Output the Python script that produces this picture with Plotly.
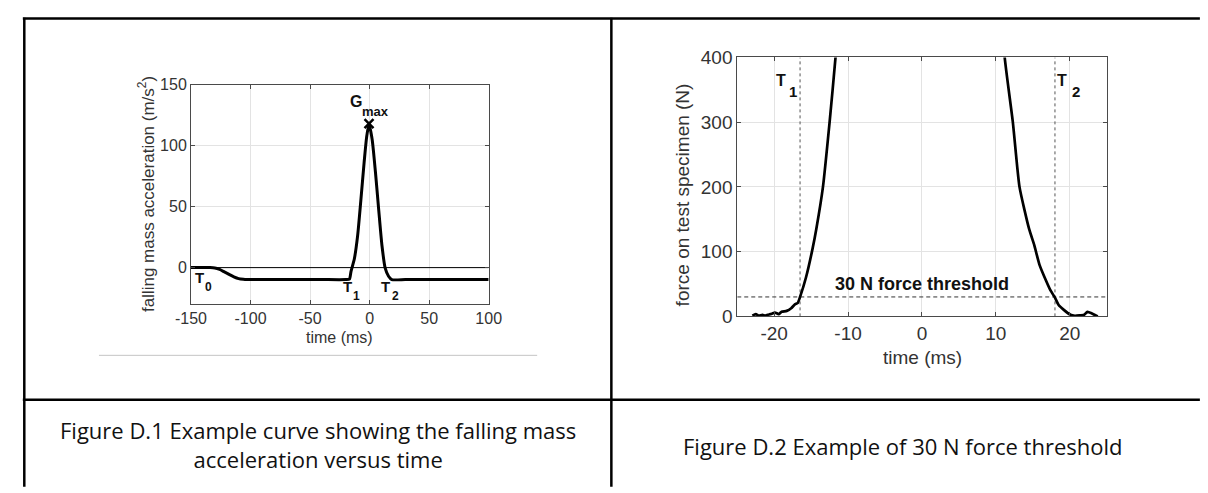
import plotly.graph_objects as go

W, H = 1208, 493

# ---------------- data: Figure D.1 ----------------
acc_time = [-150, -140, -134, -130, -126, -122, -118, -114, -110, -106, -103, -100, -80, -60, -40,
            -20, -17, -15.6, -12.8, -10.1, -7.4, -4.6, -2.5, -0.5, 2.2, 4.9, 7.7, 10.4, 13.1,
            15.9, 18.6, 30, 50, 70, 100]
acc_vals = [0, 0, 0, -0.3, -1.5, -3.5, -5.5, -7.5, -9, -9.6, -9.8, -9.8, -9.8, -9.8, -9.8,
            -9.8, -9.5, -3, 7.3, 25.8, 54.7, 86.3, 107, 118, 104.7, 78.4, 46.8, 17.9, -0.5,
            -7.1, -9.8, -9.8, -9.8, -9.8, -9.8]
gmax_time = [-0.5]
gmax_val = [118]
acc_xticks = [-150, -100, -50, 0, 50, 100]
acc_xlabels = ["-150", "-100", "-50", "0", "50", "100"]
acc_yticks = [0, 50, 100, 150]
acc_ylabels = ["0", "50", "100", "150"]

# ---------------- data: Figure D.2 ----------------
force_time = [-22.95, -22.5, -22.1, -21.6, -21.2, -20.7, -20.3, -19.9, -19.4, -19.0, -18.3,
              -17.7, -17.2, -16.8, -16.5, -15.7, -14.8, -14.3, -13.4, -12.5, -11.7, -11.3,
              None,
              11.0, 11.2, 12.3, 13.2, 14.5, 15.2, 15.9, 16.8, 17.4, 18.0, 18.5, 19.2, 20.1,
              20.7, 21.4, 21.9, 22.4, 23.0, 23.6, 23.8]
force_vals = [1, 3.5, 1, 2.5, 1, 3, 4, 6, 3.5, 7, 8.5,
              12.5, 18.5, 21, 30, 60, 105, 135, 200, 300, 400, 460,
              None,
              460, 400, 300, 200, 135, 110, 80, 55, 40, 29, 17.5, 10, 2.5,
              1, 1.5, 2, 7, 4.5, 1, 0]
threshold = 30
t1_time, t2_time = -16.5, 18.0
force_xticks = [-20, -10, 0, 10, 20]
force_xlabels = ["-20", "-10", "0", "10", "20"]
force_yticks = [0, 100, 200, 300, 400]
force_ylabels = ["0", "100", "200", "300", "400"]

captions = ["Figure D.1 Example curve showing the falling mass<br>acceleration versus time",
            "Figure D.2 Example of 30 N force threshold"]


def px(x):
    return x / W


def py(y):
    return 1 - y / H


AX = "#4a4a4a"
GRID = "#e3e3e3"
TXT = "#333333"
CF = "Liberation Sans"
CAPF = "Open Sans"

fig = go.Figure()

# Figure D.1
fig.add_trace(go.Scatter(x=[acc_xticks[0], acc_xticks[-1]], y=[0, 0], mode="lines",
                         line=dict(color="black", width=1), xaxis="x", yaxis="y",
                         hoverinfo="skip"))
fig.add_trace(go.Scatter(x=acc_time, y=acc_vals, mode="lines",
                         line=dict(color="black", width=3, shape="spline", smoothing=0.6),
                         xaxis="x", yaxis="y"))
fig.add_trace(go.Scatter(x=gmax_time, y=gmax_val, mode="markers",
                         marker=dict(symbol="x-thin", size=9, line=dict(color="black", width=2.5)),
                         xaxis="x", yaxis="y"))

# Figure D.2
fig.add_trace(go.Scatter(x=[force_xticks[0] - 5, force_xticks[-1] + 5], y=[threshold, threshold],
                         mode="lines", line=dict(color="#333333", width=1, dash="4px,3px"),
                         xaxis="x2", yaxis="y2"))
for t in (t1_time, t2_time):
    fig.add_trace(go.Scatter(x=[t, t], y=[0, 400], mode="lines",
                             line=dict(color="#555555", width=1, dash="dot"),
                             xaxis="x2", yaxis="y2"))
fig.add_trace(go.Scatter(x=force_time, y=force_vals, mode="lines", connectgaps=False,
                         line=dict(color="black", width=2.7, shape="spline", smoothing=0.5),
                         xaxis="x2", yaxis="y2"))

common = dict(showgrid=True, gridcolor=GRID, gridwidth=1, zeroline=False, showline=True,
              linecolor=AX, linewidth=1, mirror="ticks", ticks="inside", ticklen=4,
              tickcolor=AX)

fig.update_layout(
    width=W, height=H, margin=dict(l=0, r=0, t=0, b=0),
    paper_bgcolor="white", plot_bgcolor="white", showlegend=False,
    font=dict(family=CF, color=TXT),
    xaxis=dict(domain=[px(179.3), px(484.3)], range=[-150, 100], tickvals=acc_xticks,
               ticktext=acc_xlabels,
               tickfont=dict(size=16, family=CF, color=TXT), anchor="y", **common),
    yaxis=dict(domain=[py(307.3), py(78)], range=[-30, 150], tickvals=acc_yticks,
               ticktext=acc_ylabels,
               tickfont=dict(size=16, family=CF, color=TXT), anchor="x", **common),
    xaxis2=dict(domain=[px(739), px(1117.5)], range=[-25, 25], tickvals=force_xticks,
                ticktext=force_xlabels,
                tickfont=dict(size=19, family=CF, color=TXT), anchor="y2", **common),
    yaxis2=dict(domain=[py(320), py(49.5)], range=[0, 400], tickvals=force_yticks,
                ticktext=force_ylabels,
                tickfont=dict(size=19, family=CF, color=TXT), anchor="x2", **common),
)

ann = []
# axis titles
ann.append(dict(text="falling mass acceleration (m/s<sup>2</sup>)", x=px(134), y=py(192.5),
                textangle=-90, font=dict(size=17, color=TXT, family=CF)))
ann.append(dict(text="time (ms)", x=px(331.5), y=py(342), font=dict(size=16, color=TXT, family=CF)))
ann.append(dict(text="force on test specimen (N)", x=px(683), y=py(193),
                textangle=-90, font=dict(size=19, color=TXT, family=CF)))
ann.append(dict(text="time (ms)", x=px(929), y=py(363), font=dict(size=19, color=TXT, family=CF)))
for a in ann:
    a.update(xref="paper", yref="paper", showarrow=False, xanchor="center", yanchor="middle")

# in-plot labels (letter and subscript placed separately, as in the reference)
lab = [
    ("G", -11.7, 135.8, "x", "y", 16), ("max", 4.9, 128.4, "x", "y", 13),
    ("T", -143, -8.5, "x", "y", 15), ("0", -135.5, -15.8, "x", "y", 12),
    ("T", -18.3, -15.8, "x", "y", 15), ("1", -11.4, -23, "x", "y", 12),
    ("T", 13.7, -15.8, "x", "y", 15), ("2", 21.4, -23, "x", "y", 12),
    ("T", -19.1, 364, "x2", "y2", 16), ("1", -17.4, 347, "x2", "y2", 15),
    ("T", 19.0, 364, "x2", "y2", 16), ("2", 20.8, 348, "x2", "y2", 15),
    ("30 N force threshold", 0, 49.5, "x2", "y2", 18),
]
for text, x, y, xr, yr, size in lab:
    ann.append(dict(text="<b>%s</b>" % text, x=x, y=y, xref=xr, yref=yr,
                    showarrow=False, xanchor="center", yanchor="middle",
                    font=dict(size=size, color="#111111", family=CF)))

# captions
ann.append(dict(text=captions[0], x=px(309), y=py(454), xref="paper", yref="paper",
                showarrow=False, xanchor="center", yanchor="middle",
                font=dict(size=22, family=CAPF, color="#111111")))
ann.append(dict(text=captions[1], x=px(909), y=py(455), xref="paper", yref="paper",
                showarrow=False, xanchor="center", yanchor="middle",
                font=dict(size=22, family=CAPF, color="#111111")))
fig.update_layout(annotations=ann)

# table borders and separator
shapes = []
B = dict(color="black", width=2.5)
shapes.append(dict(type="line", x0=px(7), x1=px(W + 5), y0=py(9), y1=py(9), line=B))
shapes.append(dict(type="line", x0=px(8.5), x1=px(8.5), y0=py(8), y1=py(H + 5), line=B))
shapes.append(dict(type="line", x0=px(610), x1=px(610), y0=py(8), y1=py(H + 5), line=B))
shapes.append(dict(type="line", x0=px(7), x1=px(W + 5), y0=py(407), y1=py(407), line=B))
shapes.append(dict(type="line", x0=px(85), x1=px(534), y0=py(360.7), y1=py(360.7),
                   line=dict(color="#c4c4c4", width=1)))
for s in shapes:
    s.update(xref="paper", yref="paper")
fig.update_layout(shapes=shapes)

fig.write_html("out.html", config={"displayModeBar": False},
               post_script="document.body.style.margin='0';document.body.style.overflow='hidden';")
